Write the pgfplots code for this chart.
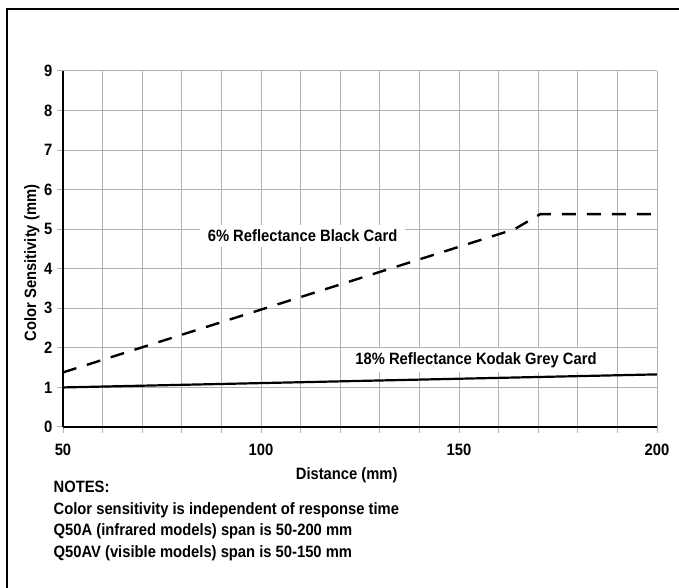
\documentclass[border=0pt]{standalone}
\usepackage{fontspec}
\setmainfont{Liberation Sans}[FakeStretch=0.9]
\usepackage{pgfplots}
\pgfplotsset{compat=1.18}
\definecolor{gridgray}{RGB}{178,178,178}
\begin{document}
\bfseries\fontsize{16.4}{19}\selectfont
\begin{tikzpicture}
\useasboundingbox (0,0) rectangle (679pt,588pt);
% frame (left and top edges only)
\draw[line width=2pt, line join=miter] (7.3pt,0) -- (7.3pt,578.7pt) -- (680pt,578.7pt);
\begin{axis}[
    at={(63pt,161pt)}, anchor=south west,
    scale only axis, width=594pt, height=356pt,
    xmin=50, xmax=200, ymin=0, ymax=9,
    axis x line=bottom, axis y line=left,
    axis line style={black, line width=1.6pt, -},
    xtick={50,100,150,200},
    minor xtick={60,70,80,90,110,120,130,140,160,170,180,190},
    ytick={0,...,9},
    tick align=outside,
    major tick length=6pt, minor tick length=6pt,
    every tick/.style={gridgray, line width=1pt},
    grid=both,
    major grid style={gridgray, line width=1pt},
    minor grid style={gridgray, line width=1pt},
    /pgf/number format/assume math mode=true,
    tick label style={font=\bfseries\fontsize{16.4}{19}\selectfont},
    xticklabel style={yshift=-5pt},
    yticklabel style={xshift=1pt},
    clip=false,
]
\addplot[black, line width=2.4pt, dash pattern=on 14pt off 11pt] coordinates {
    (50,1.38) (164,5.0) (170.5,5.38) (200,5.38)
};
\addplot[black, line width=2.2pt] coordinates {
    (50,1.0) (200,1.33)
};
\node[fill=white, inner xsep=8pt, inner ysep=5pt, anchor=base] at (axis cs:110.5,4.69) {6\% Reflectance Black Card};
\node[fill=white, inner xsep=7pt, inner ysep=4pt, anchor=base] at (axis cs:154.3,1.59) {18\% Reflectance Kodak Grey Card};
\end{axis}
\node[anchor=base] at (346.7pt,108pt) {Distance (mm)};
\node[rotate=90, anchor=base] at (36pt,325pt) {Color Sensitivity (mm)};
\node[anchor=base west, inner sep=0pt] at (53.5pt,95pt) {NOTES:};
\node[anchor=base west, inner sep=0pt] at (53.5pt,73.7pt) {Color sensitivity is independent of response time};
\node[anchor=base west, inner sep=0pt] at (53.5pt,52.3pt) {Q50A (infrared models) span is 50-200 mm};
\node[anchor=base west, inner sep=0pt] at (53.5pt,30.7pt) {Q50AV (visible models) span is 50-150 mm};
\end{tikzpicture}
\end{document}
